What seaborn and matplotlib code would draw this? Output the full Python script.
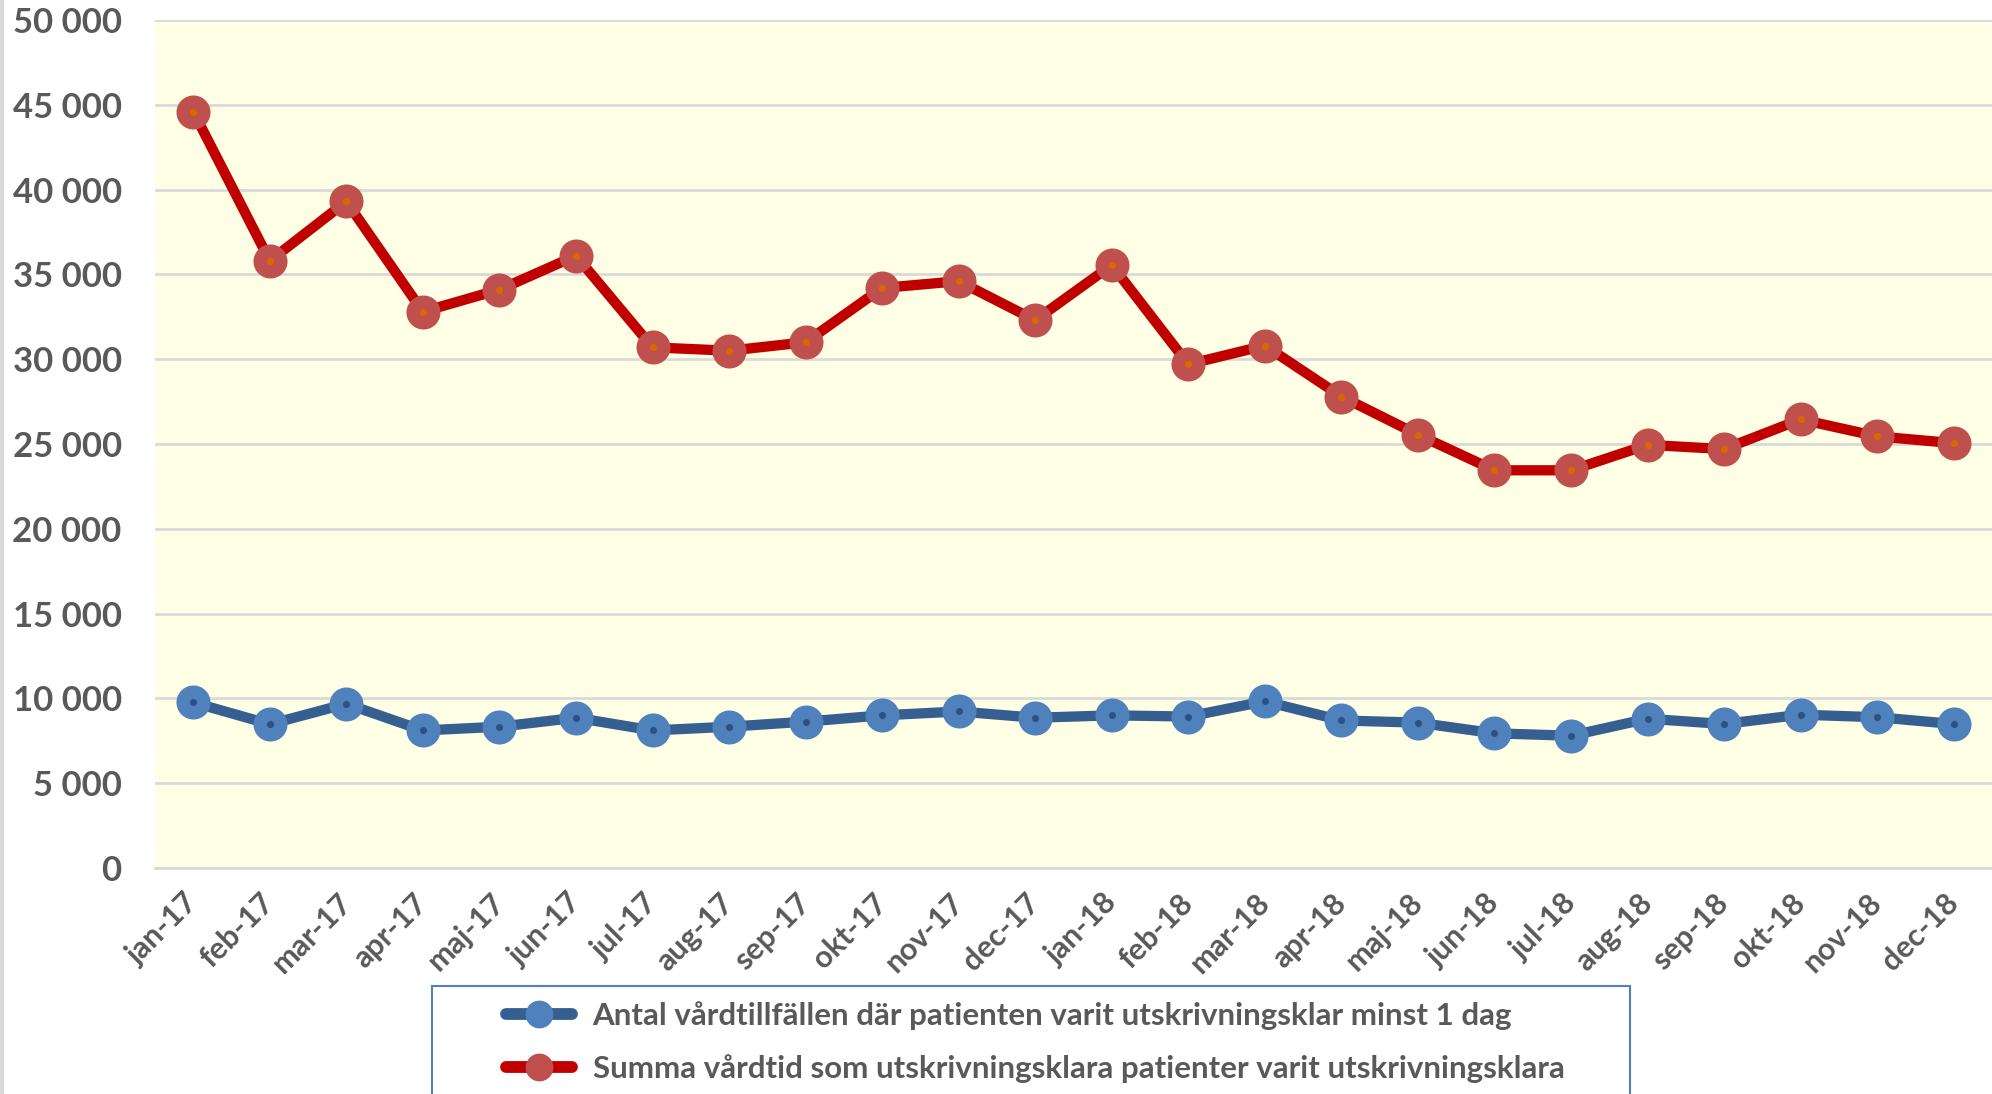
import matplotlib
matplotlib.use('Agg')
import matplotlib.pyplot as plt
import pandas as pd
import seaborn as sns
from matplotlib.lines import Line2D
from matplotlib.patches import Rectangle
from matplotlib.ticker import FuncFormatter, FixedLocator

MONTHS = [
    'jan-17', 'feb-17', 'mar-17', 'apr-17', 'maj-17', 'jun-17',
    'jul-17', 'aug-17', 'sep-17', 'okt-17', 'nov-17', 'dec-17',
    'jan-18', 'feb-18', 'mar-18', 'apr-18', 'maj-18', 'jun-18',
    'jul-18', 'aug-18', 'sep-18', 'okt-18', 'nov-18', 'dec-18',
]
ANTAL = [
    9760, 8480, 9680, 8110, 8330, 8860, 8110, 8330, 8630, 9000, 9230, 8860,
    9000, 8930, 9830, 8700, 8570, 7940, 7800, 8800, 8490, 9040, 8890, 8490,
]
SUMMA = [
    44600, 35800, 39300, 32800, 34100, 36100, 30700, 30500, 31000, 34200, 34600, 32300,
    35550, 29700, 30800, 27800, 25550, 23450, 23450, 24950, 24700, 26450, 25450, 25050,
]
LABEL_ANTAL = 'Antal vårdtillfällen där patienten varit utskrivningsklar minst 1 dag'
LABEL_SUMMA = 'Summa vårdtid som utskrivningsklara patienter varit utskrivningsklara'

TEXT = '#595959'
GRID = '#D9D9D9'
# (line colour, marker fill, centre dot)
STYLE = {
    LABEL_ANTAL: ('#365F91', '#4F81BD', '#2C5282'),
    LABEL_SUMMA: ('#C00000', '#C0504D', '#D46A00'),
}

n = len(MONTHS)
df = pd.DataFrame({
    'pos': list(range(n)) * 2,
    'value': ANTAL + SUMMA,
    'serie': [LABEL_ANTAL] * n + [LABEL_SUMMA] * n,
})

sns.set_theme(style='white')
plt.rcParams['font.family'] = ['Lato', 'DejaVu Sans']
plt.rcParams['font.weight'] = 'bold'

W, H = 1992, 1094
fig = plt.figure(figsize=(W / 100, H / 100), dpi=100)
ax = fig.add_axes([155 / W, 226 / H, 1 - 155 / W, (868 - 20) / H])
ax.set_facecolor('#FFFFE5')

order = [LABEL_ANTAL, LABEL_SUMMA]
sns.lineplot(
    data=df, x='pos', y='value', hue='serie', hue_order=order,
    palette=[STYLE[k][0] for k in order],
    linewidth=7.4, marker='o', markersize=14.8, markeredgewidth=9.7,
    legend=False, ax=ax,
)
for line, key in zip(ax.lines, order):
    line.set_markeredgecolor(STYLE[key][1])
    line.set_markerfacecolor(STYLE[key][2])
    line.set_clip_on(False)

ax.set_ylim(0, 50000)
ax.set_xlim(-0.5, 23.38)
ax.yaxis.set_major_locator(FixedLocator(range(0, 50001, 5000)))
ax.yaxis.set_major_formatter(FuncFormatter(lambda v, _: f'{int(v):,}'.replace(',', ' ')))
ax.grid(axis='y', color=GRID, linewidth=2)
ax.set_axisbelow(True)

ax.set_xticks(range(n))
ax.set_xticklabels(MONTHS, rotation=45, ha='right', va='center', rotation_mode='anchor')
ax.set_xticks([i - 0.5 for i in range(n + 1)], minor=True)
ax.tick_params(axis='x', which='major', length=0, pad=22, labelsize=22, labelcolor=TEXT)
ax.tick_params(axis='x', which='minor', length=8, width=1.5, color=GRID, direction='out')
ax.tick_params(axis='y', length=0, pad=24, labelsize=25, labelcolor=TEXT)
for lab in ax.get_xticklabels() + ax.get_yticklabels():
    lab.set_fontweight('bold')

for side in ['left', 'right', 'top']:
    ax.spines[side].set_visible(False)
ax.spines['bottom'].set_color(GRID)
ax.spines['bottom'].set_linewidth(2)
ax.set_xlabel('')
ax.set_ylabel('')

# legend frame, open at the bottom edge of the figure like the reference
fig.add_artist(Rectangle((432 / W, -0.02), (1630 - 432) / W, 0.02 + 1 - 986 / H,
                         transform=fig.transFigure, fill=False,
                         edgecolor='#4F81BD', linewidth=1.5))

handles = [
    Line2D([], [], color=STYLE[k][0], linewidth=8.5, solid_capstyle='round',
           marker='o', markersize=19, markerfacecolor=STYLE[k][1],
           markeredgecolor=STYLE[k][1])
    for k in order
]
fig.legend(
    handles, order, loc='center left',
    bbox_to_anchor=(506 / W, 1 - 1042 / H),
    frameon=False, handlelength=2.1, handletextpad=0.67, labelspacing=0.75,
    borderpad=0, borderaxespad=0, labelcolor=TEXT,
    prop={'weight': 'bold', 'size': 22.5},
)

fig.add_artist(Line2D([0.001, 0.001], [0, 1], color=GRID, linewidth=3, transform=fig.transFigure))

fig.savefig('out.png', dpi=100, facecolor='white')
